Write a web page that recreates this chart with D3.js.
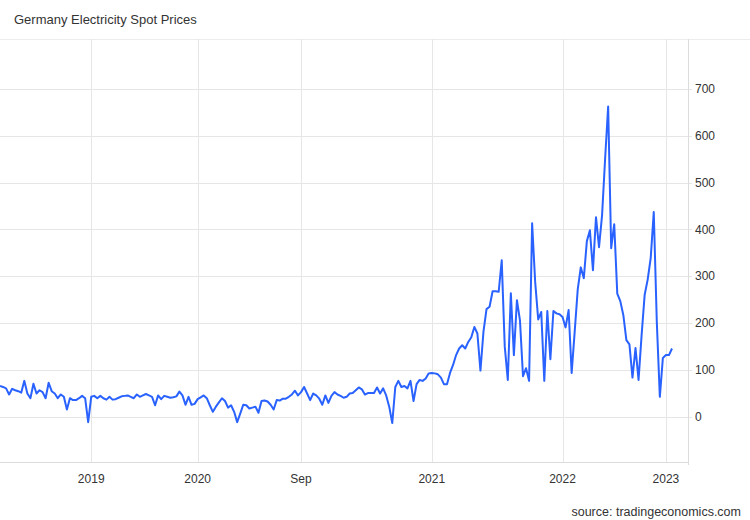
<!DOCTYPE html>
<html>
<head>
<meta charset="utf-8">
<script src="https://cdn.jsdelivr.net/npm/d3@7"></script>
<style>
  html, body { margin: 0; padding: 0; background: #fff; }
  svg { display: block; font-family: "Liberation Sans", Arial, sans-serif; }
</style>
</head>
<body>
<svg id="chart" width="750" height="520"></svg>
<script>
const title = "Germany Electricity Spot Prices";
const source = "source: tradingeconomics.com";

// Weekly spot price readings (EUR/MWh), mid-2018 to early 2023
const prices = [
  66, 64, 61, 48, 60, 57, 55, 52, 77, 50, 40, 71, 50, 57, 53, 40, 73, 55, 50, 40,
  48, 43, 16, 40, 36, 36, 40, 45, 40, -11, 43, 45, 40, 45, 40, 37, 43, 37, 38, 41,
  44, 45, 46, 43, 40, 48,
  43, 46, 49, 46, 43, 25, 46, 38, 45, 43, 41, 42, 44, 54, 46, 26, 43, 26, 28, 38,
  42, 46, 40, 25, 11, 22, 31, 40, 34, 20, 25, 11, -11, 7, 26, 25, 18, 20,
  22, 9, 34, 35, 33,
  26, 16, 36, 35, 39, 39, 43, 48, 56, 46, 53, 64, 50, 36, 50, 46, 39, 26, 46,
  30, 45, 53, 48, 45, 41, 43, 50, 51, 57, 63, 59, 48, 51, 51, 51, 63, 50, 61, 46,
  22, -13, 64, 77, 64,
  66, 61, 77, 34, 70, 79, 77, 82, 93, 94, 93, 91, 84, 70, 70, 94, 111, 132, 146, 153,
  146, 160, 170, 192, 178, 99, 182, 230, 235, 268, 268, 267, 334, 150, 79, 264, 132, 249, 206, 87,
  104, 77,
  413, 288, 208, 224, 77, 226, 123, 226, 221, 219, 213, 191, 228, 94, 182, 272, 319, 296, 375, 398,
  313, 426, 362, 430, 550, 662, 360, 411, 263, 247, 217, 164, 155, 84, 147, 79, 174, 260, 293, 339,
  437, 203, 43, 126, 132, 132, 146
];

// Category axis labels and the observation index they sit on
const xTickLabels = ["2019", "2020", "Sep", "2021", "2022", "2023"];
const xTickIndex = [30, 65, 99, 142, 185, 219];

const yTicks = [0, 100, 200, 300, 400, 500, 600, 700];

const svg = d3.select("#chart");
const W = 750, H = 520;
const plot = { left: 0, right: 688, top: 39, bottom: 462 };

const x = d3.scaleLinear()
  .domain([0, prices.length - 1])
  .range([0, 672]);

const y = d3.scaleLinear()
  .domain([-96, 806])
  .range([plot.bottom, plot.top]);

const gridColor = "#e6e6e6";
const textColor = "#333333";

// Title
svg.append("text")
  .attr("x", 14).attr("y", 24)
  .attr("font-size", 13)
  .attr("fill", textColor)
  .text(title);

// Top separator
svg.append("line")
  .attr("x1", 0).attr("x2", W)
  .attr("y1", plot.top + 0.5).attr("y2", plot.top + 0.5)
  .attr("stroke", "#ececec");

// Horizontal grid
svg.append("g")
  .selectAll("line")
  .data(yTicks)
  .join("line")
  .attr("x1", plot.left).attr("x2", plot.right + 4)
  .attr("y1", d => Math.round(y(d)) + 0.5)
  .attr("y2", d => Math.round(y(d)) + 0.5)
  .attr("stroke", gridColor);

// Vertical grid
svg.append("g")
  .selectAll("line")
  .data(xTickIndex)
  .join("line")
  .attr("x1", d => Math.round(x(d)) + 0.5)
  .attr("x2", d => Math.round(x(d)) + 0.5)
  .attr("y1", plot.top).attr("y2", plot.bottom)
  .attr("stroke", gridColor);

// Bottom axis line
svg.append("line")
  .attr("x1", 0).attr("x2", plot.right)
  .attr("y1", plot.bottom + 0.5).attr("y2", plot.bottom + 0.5)
  .attr("stroke", "#dcdcdc");

// Right axis line
svg.append("line")
  .attr("x1", plot.right + 0.5).attr("x2", plot.right + 0.5)
  .attr("y1", plot.top).attr("y2", plot.bottom + 3)
  .attr("stroke", "#dcdcdc");

// Y labels (right)
svg.append("g")
  .selectAll("text")
  .data(yTicks)
  .join("text")
  .attr("x", plot.right + 7)
  .attr("y", d => y(d))
  .attr("dy", "0.35em")
  .attr("font-size", 12)
  .attr("fill", textColor)
  .text(d => d);

// X labels
svg.append("g")
  .selectAll("text")
  .data(xTickIndex)
  .join("text")
  .attr("x", d => x(d))
  .attr("y", 483)
  .attr("text-anchor", "middle")
  .attr("font-size", 12)
  .attr("fill", textColor)
  .text((d, i) => xTickLabels[i]);

// Line
const line = d3.line()
  .x((d, i) => x(i))
  .y(d => y(d));

svg.append("path")
  .datum(prices)
  .attr("d", line)
  .attr("fill", "none")
  .attr("stroke", "#2962ff")
  .attr("stroke-width", 2)
  .attr("stroke-linejoin", "round");

// Source
svg.append("text")
  .attr("x", 741).attr("y", 516)
  .attr("text-anchor", "end")
  .attr("font-size", 12.5)
  .attr("fill", textColor)
  .text(source);
</script>
</body>
</html>
